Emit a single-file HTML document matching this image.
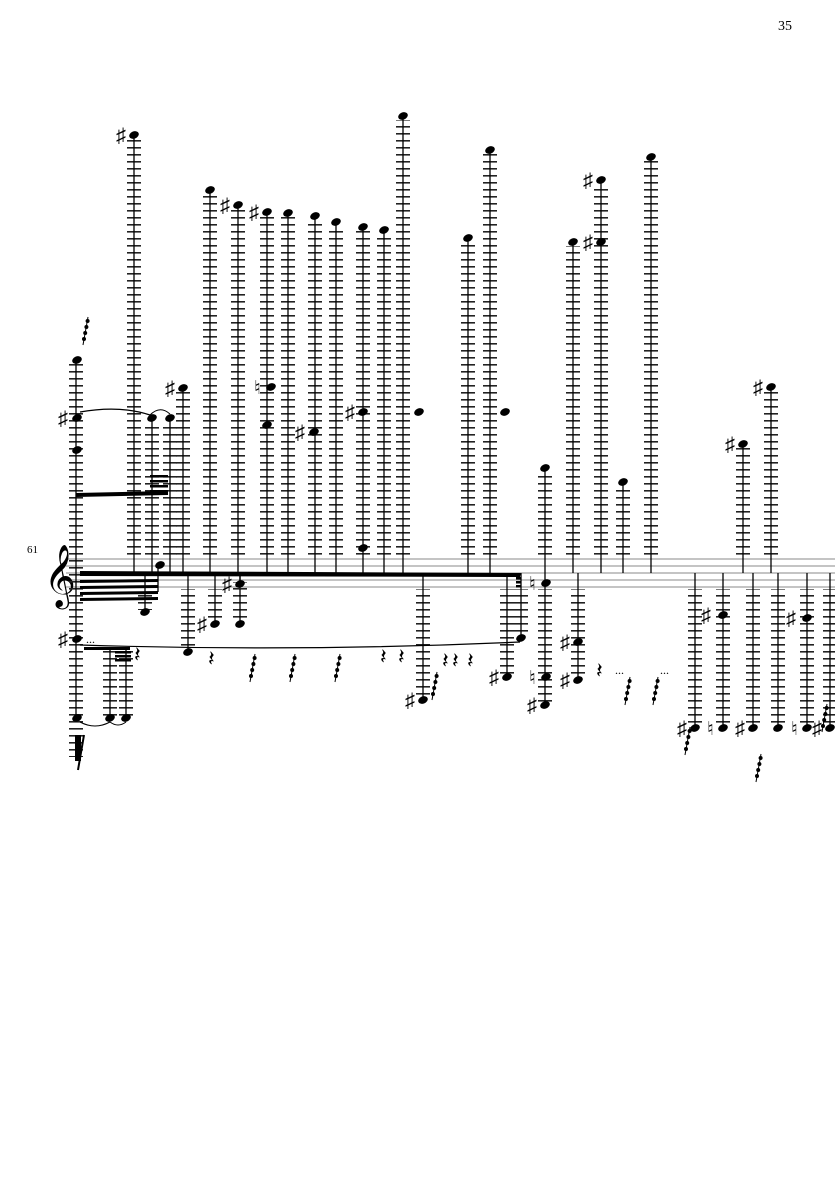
<!DOCTYPE html>
<html><head><meta charset="utf-8"><style>
html,body{margin:0;padding:0;background:#fff;}
svg{display:block;}
text{font-family:"Liberation Serif",serif;}
</style></head><body>
<svg id="s" width="835" height="1181" viewBox="0 0 835 1181" xmlns="http://www.w3.org/2000/svg">
<defs>
<pattern id="led" width="14" height="7" patternUnits="userSpaceOnUse" y="0">
<rect x="0" y="0" width="14" height="1.6" fill="#222"/>
</pattern>
</defs>
<rect width="835" height="1181" fill="#fff"/>
<text x="778" y="30" font-size="14">35</text>
<text x="27" y="553" font-size="11">61</text>
<g stroke="#888" stroke-width="1">
<line x1="66" y1="559" x2="835" y2="559"/><line x1="66" y1="566" x2="835" y2="566"/>
<line x1="66" y1="573" x2="835" y2="573"/><line x1="66" y1="580" x2="835" y2="580"/>
<line x1="66" y1="587" x2="835" y2="587"/>
</g>
<text x="44" y="594" font-size="54" font-family="DejaVu Sans,sans-serif">𝄞</text>
<g id="g"></g>
</svg>
<script>
var g=document.getElementById('g'),h='';
function led(x,y1,y2){if(y2<y1){var t=y1;y1=y2;y2=t;}h+='<rect x="'+(x-7)+'" y="'+y1+'" width="14" height="'+(y2-y1)+'" fill="url(#led)"/>';}
function st(x,y1,y2){h+='<line x1="'+x+'" y1="'+y1+'" x2="'+x+'" y2="'+y2+'" stroke="#000" stroke-width="1.3"/>';}
function nh(x,y){h+='<ellipse cx="'+(x-3)+'" cy="'+y+'" rx="5" ry="3.6" transform="rotate(-22 '+(x-3)+' '+y+')" fill="#000"/>';}
function sh(x,y){h+='<text x="'+(x-18)+'" y="'+(y+7)+'" font-size="20" font-family="DejaVu Sans,sans-serif">♯</text>';}
function na(x,y){h+='<text x="'+(x-16)+'" y="'+(y+7)+'" font-size="19" font-family="DejaVu Sans,sans-serif">♮</text>';}
function up(x,y,s){led(x,y+4,557);st(x,y,573);nh(x+3,y);if(s==1)sh(x,y);if(s==2)na(x,y);}
function dn(x,y,s){led(x,589,y-2);st(x,573,y);nh(x+3,y);if(s==1)sh(x,y);if(s==2)na(x,y);}
led(76,362,757);st(76,360,720);nh(80,360);nh(80,418);sh(76,418);nh(80,450);nh(80,639);sh(76,639);nh(80,718);
up(134,135,1);
[[152,418],[170,418],[183,388,1],[210,190],[238,205,1],[267,212,1],[288,213],[315,216],[336,222],[363,227],[384,230],[403,116],[468,238],[490,150],[545,468],[573,242],[601,180,1],[623,482],[651,157],[743,444,1],[771,387,1]].forEach(function(a){up(a[0],a[1],a[2]);});
nh(270,425);nh(274,387);na(270,387);nh(317,432);sh(313,432);nh(366,412);sh(363,412);nh(366,548);nh(422,412);nh(508,412);
nh(604,242);sh(601,242);
[[188,652],[215,624,1],[240,624],[240,584,1],[423,700,1],[507,677,1],[521,638],[545,705,1],[578,680,1],[695,728,1],[723,728,2],[753,728,1],[778,728],[807,728,2],[830,728,1]].forEach(function(a){dn(a[0],a[1],a[2]);});
nh(549,583);na(545,583);nh(549,677);na(545,677);nh(581,642);sh(578,642);nh(726,615);sh(719,615);nh(810,618);sh(804,618);
led(110,650,716);st(110,647,718);nh(113,718);led(126,650,716);st(126,647,718);nh(129,718);led(145,590,610);nh(148,612);st(145,575,612);
nh(163,565);st(158,565,592);
h+='<polygon points="80,571 520,573 520,577 80,576" fill="#000"/>';
for(var i=0;i<4;i++)h+='<polygon points="80,'+(580+i*6)+' 158,'+(579+i*6)+' 158,'+(582+i*6)+' 80,'+(583+i*6)+'" fill="#000"/>';
h+='<polygon points="76,493 168,491 168,495 76,497" fill="#000"/>';
for(var i=0;i<4;i++)h+='<rect x="150" y="'+(475+i*5)+'" width="18" height="2.5" fill="#000"/>';
h+='<rect x="84" y="647" width="46" height="3" fill="#000"/>';
for(var i=0;i<3;i++)h+='<rect x="115" y="'+(651+i*4)+'" width="16" height="2.5" fill="#000"/>';
for(var i=0;i<4;i++)h+='<rect x="516" y="'+(573+i*4)+'" width="5" height="2.5" fill="#000"/>';
h+='<path d="M80,645 Q300,652 520,642" stroke="#000" fill="none" stroke-width="1.2"/>';
h+='<path d="M80,412 Q120,405 150,415" stroke="#000" fill="none" stroke-width="1.2"/>';
h+='<path d="M150,415 Q160,405 170,414" stroke="#000" fill="none" stroke-width="1"/>';
h+='<path d="M80,722 Q95,730 110,722 M110,722 Q118,728 126,722" stroke="#000" fill="none" stroke-width="1"/>';
h+='<text x="86" y="643" font-size="12">...</text>';
var rs=[[208,666],[380,664],[398,664],[442,668],[452,668],[467,668],[134,662],[596,678]];
rs.forEach(function(r){h+='<text x="'+r[0]+'" y="'+r[1]+'" font-size="22" font-family="DejaVu Sans,sans-serif">𝄽</text>';});
var ts=[[250,682],[290,682],[335,682],[432,700],[756,782],[83,345],[625,705],[653,705],[685,755],[822,732]];
ts.forEach(function(r){h+='<path d="M'+r[0]+','+r[1]+' l5,-28" stroke="#000" stroke-width="1"/>';for(var j=0;j<4;j++)h+='<circle cx="'+(r[0]+1+j*1.2)+'" cy="'+(r[1]-6-j*6)+'" r="2" fill="#000"/>';});
h+='<path d="M78,770 l6,-35" stroke="#000" stroke-width="2"/><rect x="75" y="735" width="6" height="26" fill="#000"/>';
h+='<text x="615" y="674" font-size="12">...</text><text x="660" y="674" font-size="12">...</text>';
g.innerHTML=h;
</script>
</body></html>
